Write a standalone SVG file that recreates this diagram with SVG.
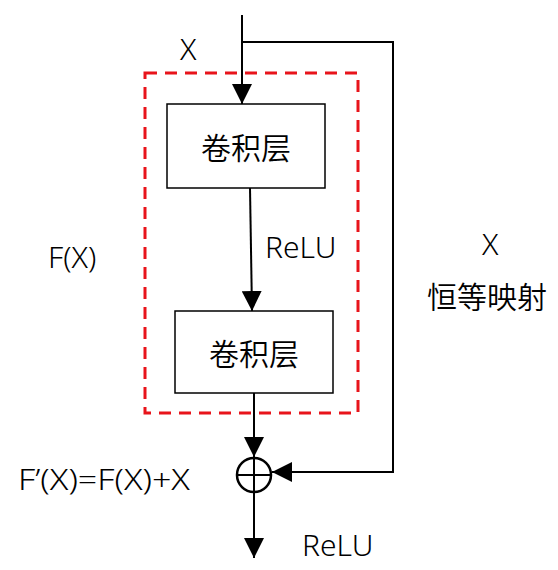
<svg xmlns="http://www.w3.org/2000/svg" width="558" height="570" viewBox="0 0 558 570">
<defs>
<marker id="ah" viewBox="0 0 20 20" refX="20" refY="10" markerWidth="20" markerHeight="20" markerUnits="userSpaceOnUse" orient="auto">
<path d="M0,0 L20,10 L0,20 Z" fill="#000"/>
</marker>
</defs>
<style>
.ln{stroke:#000;stroke-width:2;fill:none}
.box{fill:#fff;stroke:#000;stroke-width:1.5}
.t{font-family:"Noto Sans","Noto Sans CJK SC",sans-serif;font-size:30px;font-weight:300;fill:#000}
.c{font-family:"Noto Sans CJK SC",sans-serif;font-size:30px;font-weight:350;fill:#000;text-anchor:middle}
</style>
<rect width="558" height="570" fill="#fff"/>
<rect id="fx-region" x="145" y="73" width="213" height="340" fill="none" stroke="#e8141b" stroke-width="3" stroke-dasharray="12,8"/>
<g id="connectors">
<line class="ln" x1="242" y1="15" x2="242" y2="104" marker-end="url(#ah)"/>
<polyline class="ln" points="242,42 393,42 393,472 272,472" marker-end="url(#ah)"/>
<line class="ln" x1="250" y1="188" x2="252" y2="311" marker-end="url(#ah)"/>
<line class="ln" x1="254" y1="393" x2="254" y2="457" marker-end="url(#ah)"/>
<line class="ln" x1="254" y1="492" x2="254" y2="558" marker-end="url(#ah)"/>
</g>
<g id="conv1">
<rect class="box" x="167" y="104" width="158" height="84"/>
<text class="c" x="246" y="159">卷积层</text>
</g>
<g id="conv2">
<rect class="box" x="175" y="311" width="158" height="82"/>
<text class="c" x="254" y="365">卷积层</text>
</g>
<g id="add">
<circle cx="254" cy="475" r="17" fill="#fff" stroke="#000" stroke-width="2.5"/>
<line class="ln" x1="237" y1="475" x2="271" y2="475"/>
<line class="ln" x1="254" y1="458" x2="254" y2="492"/>
</g>
<text class="t" x="180" y="60">X</text>
<text class="t" x="265" y="258" font-size="27">ReLU</text>
<text class="t" x="48" y="268">F(X)</text>
<text class="t" x="482" y="255">X</text>
<text class="c" x="487" y="308">恒等映射</text>
<text class="t" x="18" y="490" textLength="172" lengthAdjust="spacingAndGlyphs">F’(X)=F(X)+X</text>
<text class="t" x="302" y="556" font-size="27">ReLU</text>
</svg>
